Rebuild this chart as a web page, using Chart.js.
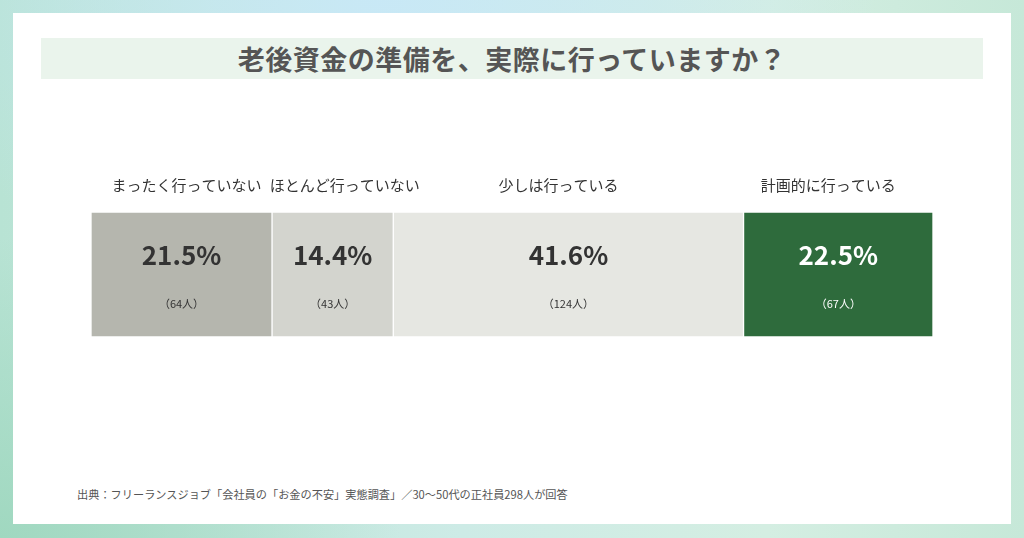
<!DOCTYPE html>
<html lang="ja">
<head>
<meta charset="utf-8">
<title>老後資金の準備</title>
<script src="https://cdn.jsdelivr.net/npm/chart.js@4.4.1/dist/chart.umd.min.js"></script>
<style>
  html, body { margin: 0; padding: 0; }
  body {
    width: 1024px; height: 538px; position: relative; overflow: hidden;
    font-family: "Noto Sans CJK JP", "Noto Sans", sans-serif;
    background:
      radial-gradient(ellipse 500px 300px at 380px 0px, rgba(200,232,248,0.9), rgba(200,232,248,0) 100%),
      radial-gradient(ellipse 400px 300px at 0px 538px, rgba(160,216,192,1), rgba(160,216,192,0) 100%),
      linear-gradient(90deg, #b8e3d4 0%, #cdebe6 45%, #d4eee2 75%, #c6e8d8 100%);
  }
  .card {
    position: absolute; left: 13px; top: 13px; width: 998px; height: 511px;
    background: #fff;
  }
  .title {
    position: absolute; left: 41px; top: 38px; width: 942px; height: 41px;
    background: #eaf4ec; color: #555; font-weight: 700; font-size: 27px;
    line-height: 41px; text-align: center; letter-spacing: 0.5px;
  }
  .source {
    position: absolute; left: 77px; top: 486px; font-size: 11.2px; color: #555;
  }
  canvas { position: absolute; left: 0; top: 0; }
</style>
</head>
<body>
<div class="card"></div>
<div class="title">老後資金の準備を、実際に行っていますか？</div>
<div class="source">出典：フリーランスジョブ「会社員の「お金の不安」実態調査」／30〜50代の正社員298人が回答</div>
<canvas id="prepChart" width="1024" height="538"></canvas>

<script>
// Answers, left to right
const answers = ['まったく行っていない', 'ほとんど行っていない', '少しは行っている', '計画的に行っている'];
const percents = [21.5, 14.4, 41.6, 22.5];
const counts = [64, 43, 124, 67];
const barColors = ['#b5b6ae', '#d3d4ce', '#e6e7e2', '#2e6b3c'];
const textColors = ['#333333', '#333333', '#333333', '#ffffff'];

// Draw category names above and values inside each segment
const segmentLabels = {
    id: 'segmentLabels',
    afterDatasetsDraw(chart, args, opts) {
        const ctx = chart.ctx;
        const area = chart.chartArea;
        ctx.save();
        ctx.textAlign = 'center';
        ctx.textBaseline = 'middle';
        chart.data.datasets.forEach((ds, i) => {
            const bar = chart.getDatasetMeta(i).data[0];
            const cx = (bar.x + bar.base) / 2;
            const cy = bar.y;

            // names are nudged a little so the two left ones don't touch
            ctx.fillStyle = '#333';
            ctx.font = '400 15px "Noto Sans CJK JP"';
            ctx.fillText(answers[i], cx + opts.nameShift[i], area.top - 27);

            ctx.fillStyle = textColors[i];
            ctx.font = '700 26px "Noto Sans CJK JP"';
            ctx.fillText(percents[i].toFixed(1) + '%', cx, cy - 19);

            ctx.font = '400 11px "Noto Sans CJK JP"';
            ctx.fillText('（' + counts[i] + '人）', cx, cy + 29);
        });
        ctx.restore();
    }
};

const ctx = document.getElementById('prepChart').getContext('2d');
new Chart(ctx, {
    type: 'bar',
    data: {
        labels: [''],
        datasets: answers.map((name, i) => ({
            label: name,
            data: [percents[i]],
            backgroundColor: barColors[i],
            borderColor: '#ffffff',
            borderWidth: 1,
            borderSkipped: false,
            barPercentage: 1,
            categoryPercentage: 1
        }))
    },
    options: {
        indexAxis: 'y',
        responsive: false,
        animation: false,
        layout: {
            padding: { left: 91, right: 91, top: 212, bottom: 201 }
        },
        plugins: {
            legend: { display: false },
            tooltip: { enabled: false },
            segmentLabels: { nameShift: [5, 12, -10, -10] }
        },
        scales: {
            x: { stacked: true, min: 0, max: 100, display: false },
            y: { stacked: true, display: false }
        }
    },
    plugins: [segmentLabels]
});
</script>
</body>
</html>
